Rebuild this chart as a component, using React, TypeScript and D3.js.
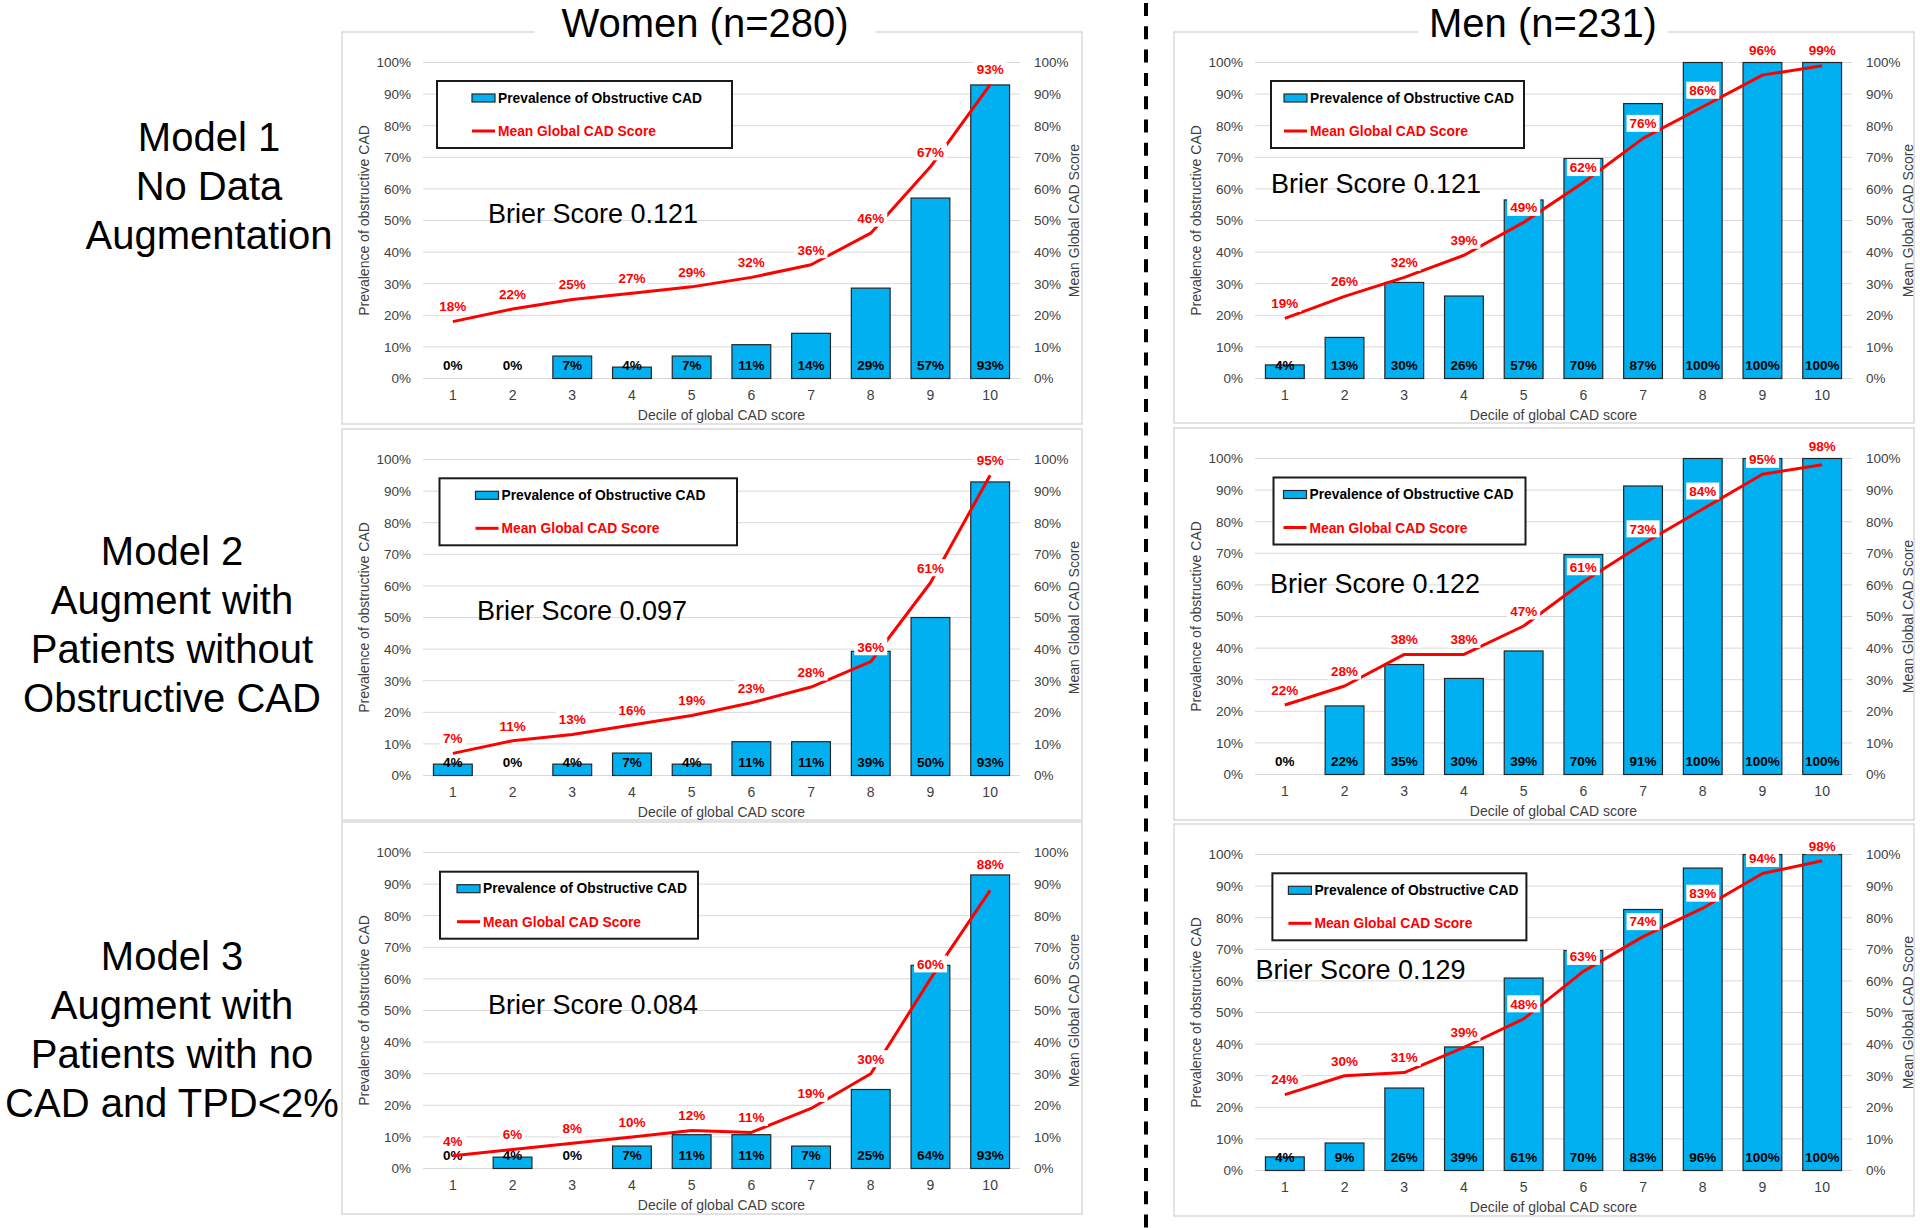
import React from 'react';
import * as d3 from 'd3';

// ---------- data ----------
const deciles = ['1', '2', '3', '4', '5', '6', '7', '8', '9', '10'];
const yTicks = [0, 10, 20, 30, 40, 50, 60, 70, 80, 90, 100];

const womenM1Prevalence = [0, 0, 7.1, 3.6, 7.1, 10.7, 14.3, 28.6, 57.1, 92.9];
const womenM1Score = [18, 22, 25, 27, 29, 32, 36, 46, 67, 93];
const womenM2Prevalence = [3.6, 0, 3.6, 7.1, 3.6, 10.7, 10.7, 39.3, 50, 92.9];
const womenM2Score = [7, 11, 13, 16, 19, 23, 28, 36, 61, 95];
const womenM3Prevalence = [0, 3.6, 0, 7.1, 10.7, 10.7, 7.1, 25, 64.3, 92.9];
const womenM3Score = [4, 6, 8, 10, 12, 11.4, 19, 30, 60, 88];

const menM1Prevalence = [4.3, 13, 30.4, 26.1, 56.5, 69.6, 87, 100, 100, 100];
const menM1Score = [19, 26, 32, 39, 49.4, 62, 76, 86, 96, 99];
const menM2Prevalence = [0, 21.7, 34.8, 30.4, 39.1, 69.6, 91.3, 100, 100, 100];
const menM2Score = [22, 28, 38, 38, 47, 61, 73, 84, 95, 98];
const menM3Prevalence = [4.3, 8.7, 26.1, 39.1, 60.9, 69.6, 82.6, 95.7, 100, 100];
const menM3Score = [24, 30, 31, 39, 48, 63, 74, 83, 94, 98];

const brierScores = ['0.121', '0.121', '0.097', '0.122', '0.084', '0.129'];

const groupTitles = ['Women (n=280)', 'Men (n=231)'];
const rowLabels = [
  ['Model 1', 'No Data', 'Augmentation'],
  ['Model 2', 'Augment with', 'Patients without', 'Obstructive CAD'],
  ['Model 3', 'Augment with', 'Patients with no', 'CAD and TPD<2%'],
];

const legendBarLabel = 'Prevalence of Obstructive CAD';
const legendLineLabel = 'Mean Global CAD Score';
const leftAxisTitle = 'Prevalence of obstructive CAD';
const rightAxisTitle = 'Mean Global CAD Score';
const xAxisTitle = 'Decile of global CAD score';

// ---------- layout ----------
const FONT = '"Liberation Sans", Arial, Helvetica, sans-serif';
const BLUE = '#00B0F0';
const RED = '#FF0000';
const GRID = '#D9D9D9';
const TICK = '#404040';

const PANEL_W = 740;
const PLOT_L = 81;
const PLOT_R = 678;
const PLOT_T = 30.5;
const PLOT_B = 346.5;

const panels = [
  { prev: womenM1Prevalence, score: womenM1Score, brier: brierScores[0], x: 342, y: 32, h: 392,
    lg: { x: 95, y: 49, w: 295, pad: 35 }, br: { x: 146, y: 191 }, lift: {} as Record<number, number> },
  { prev: menM1Prevalence, score: menM1Score, brier: brierScores[1], x: 1174, y: 32, h: 391,
    lg: { x: 97, y: 49, w: 253, pad: 13 }, br: { x: 97, y: 161 }, lift: { 7: 16.5, 8: 25 } as Record<number, number> },
  { prev: womenM2Prevalence, score: womenM2Score, brier: brierScores[2], x: 342, y: 429, h: 391,
    lg: { x: 97.5, y: 49.3, w: 297.5, pad: 36 }, br: { x: 135, y: 191 }, lift: {} as Record<number, number> },
  { prev: menM2Prevalence, score: menM2Score, brier: brierScores[3], x: 1174, y: 428, h: 392,
    lg: { x: 99.5, y: 49.5, w: 252, pad: 10 }, br: { x: 96, y: 165 }, lift: { 7: 18, 9: 19 } as Record<number, number> },
  { prev: womenM3Prevalence, score: womenM3Score, brier: brierScores[4], x: 342, y: 822, h: 392,
    lg: { x: 98, y: 49.7, w: 258, pad: 17 }, br: { x: 146, y: 192 }, lift: { 9: 26 } as Record<number, number> },
  { prev: menM3Prevalence, score: menM3Score, brier: brierScores[5], x: 1174, y: 824, h: 392,
    lg: { x: 98.4, y: 49.3, w: 254, pad: 16 }, br: { x: 81.5, y: 155 }, lift: {} as Record<number, number> },
];

const pct = (v: number) => `${Math.round(v)}%`;
const LABEL_FS = 13.5;
const labelWidth = (s: string) => {
  let w = 0;
  for (const c of s) w += c === '%' ? 0.889 : 0.556;
  return w * LABEL_FS + 6;
};

function Panel({ p }: { p: typeof panels[number] }) {
  const x = d3.scaleBand<string>().domain(deciles).range([PLOT_L, PLOT_R]).paddingInner(0.35).paddingOuter(0.175);
  const y = d3.scaleLinear().domain([0, 100]).range([PLOT_B, PLOT_T]);
  const cx = (i: number) => (x(deciles[i]) as number) + x.bandwidth() / 2;
  const line = d3.line<number>().x((_, i) => cx(i)).y((d) => y(d)).curve(d3.curveLinear);

  return (
    <g transform={`translate(${p.x},${p.y})`}>
      <rect x={0} y={0} width={PANEL_W} height={p.h} fill="#fff" stroke={GRID} strokeWidth={1.5} />
      {/* gridlines */}
      {yTicks.map((t) => (
        <line key={t} x1={PLOT_L} x2={PLOT_R} y1={y(t)} y2={y(t)} stroke={GRID} strokeWidth={1} />
      ))}
      {/* left ticks */}
      {yTicks.map((t) => (
        <text key={'l' + t} x={69} y={y(t) + 4.8} textAnchor="end" fontSize={13.5} fill={TICK} fontFamily={FONT}>
          {t}%
        </text>
      ))}
      {/* right ticks */}
      {yTicks.map((t) => (
        <text key={'r' + t} x={692} y={y(t) + 4.8} textAnchor="start" fontSize={13.5} fill={TICK} fontFamily={FONT}>
          {t}%
        </text>
      ))}
      {/* category ticks */}
      {deciles.map((d, i) => (
        <text key={'c' + d} x={cx(i)} y={368} textAnchor="middle" fontSize={14} fill={TICK} fontFamily={FONT}>
          {d}
        </text>
      ))}
      <text x={(PLOT_L + PLOT_R) / 2} y={387.5} textAnchor="middle" fontSize={14} fill={TICK} fontFamily={FONT}>
        {xAxisTitle}
      </text>
      <text transform={`translate(27,${(PLOT_T + PLOT_B) / 2}) rotate(-90)`} textAnchor="middle" fontSize={14} fill={TICK} fontFamily={FONT}>
        {leftAxisTitle}
      </text>
      <text transform={`translate(${p.x > 1000 ? 739 : 737},${(PLOT_T + PLOT_B) / 2}) rotate(-90)`} textAnchor="middle" fontSize={14} fill={TICK} fontFamily={FONT}>
        {rightAxisTitle}
      </text>
      {/* bars */}
      {p.prev.map((v, i) =>
        v > 0 ? (
          <rect key={'b' + i} x={x(deciles[i])} y={y(v)} width={x.bandwidth()} height={y(0) - y(v)}
            fill={BLUE} stroke="#262626" strokeWidth={1.2} />
        ) : null
      )}
      {/* bar labels */}
      {p.prev.map((v, i) => (
        <text key={'bl' + i} x={cx(i)} y={PLOT_B - 8.5} textAnchor="middle" fontSize={LABEL_FS} fontWeight="bold" fill="#000" fontFamily={FONT}>
          {pct(v)}
        </text>
      ))}
      {/* line */}
      <path d={line(p.score) || ''} fill="none" stroke={RED} strokeWidth={3} strokeLinejoin="round" />
      {/* line labels */}
      {p.score.map((v, i) => {
        const s = pct(v);
        const w = labelWidth(s);
        const cy = y(v) - (p.lift[i] ?? 15);
        return (
          <g key={'sl' + i}>
            <rect x={cx(i) - w / 2} y={cy - 8.5} width={w} height={17} fill="#fff" />
            <text x={cx(i)} y={cy + 4.8} textAnchor="middle" fontSize={LABEL_FS} fontWeight="bold" fill={RED} fontFamily={FONT}>
              {s}
            </text>
          </g>
        );
      })}
      {/* legend */}
      <g transform={`translate(${p.lg.x},${p.lg.y})`}>
        <rect x={0} y={0} width={p.lg.w} height={67} fill="#fff" stroke="#1a1a1a" strokeWidth={2} />
        <rect x={p.lg.pad} y={13} width={23} height={8} fill={BLUE} stroke="#262626" strokeWidth={1.2} />
        <text x={p.lg.pad + 26} y={21.5} fontSize={13.8} fontWeight="bold" fill="#000" fontFamily={FONT}>
          {legendBarLabel}
        </text>
        <line x1={p.lg.pad} x2={p.lg.pad + 23} y1={50} y2={50} stroke={RED} strokeWidth={3} />
        <text x={p.lg.pad + 26} y={55} fontSize={13.8} fontWeight="bold" fill={RED} fontFamily={FONT}>
          {legendLineLabel}
        </text>
      </g>
      {/* brier */}
      <text x={p.br.x} y={p.br.y} fontSize={27} fill="#000" fontFamily={FONT}>
        Brier Score {p.brier}
      </text>
    </g>
  );
}

export default function App() {
  const titleX = [705, 1543];
  const titleW = [341, 250];
  const rowLayout = [
    { cx: 209, y0: 151 },
    { cx: 172, y0: 565 },
    { cx: 172, y0: 970 },
  ];
  return (
    <div style={{ position: 'absolute', left: 0, top: 0 }}>
      <svg width={1920} height={1228} viewBox="0 0 1920 1228" style={{ display: 'block', background: '#fff' }}>
        <rect x={0} y={0} width={1920} height={1228} fill="#fff" />
        {panels.map((p, i) => (
          <Panel key={i} p={p} />
        ))}
        {groupTitles.map((t, i) => (
          <g key={t}>
            <rect x={titleX[i] - titleW[i] / 2} y={20} width={titleW[i]} height={24} fill="#fff" />
            <text x={titleX[i]} y={37} textAnchor="middle" fontSize={40} fill="#000" fontFamily={FONT}>
              {t}
            </text>
          </g>
        ))}
        {rowLabels.map((lines, r) =>
          lines.map((l, j) => (
            <text key={r + '-' + j} x={rowLayout[r].cx} y={rowLayout[r].y0 + j * 49} textAnchor="middle" fontSize={40} fill="#000" fontFamily={FONT}>
              {l}
            </text>
          ))
        )}
        <line x1={1146} x2={1146} y1={3} y2={1228} stroke="#000" strokeWidth={4} strokeDasharray="13 10.3" />
      </svg>
    </div>
  );
}
